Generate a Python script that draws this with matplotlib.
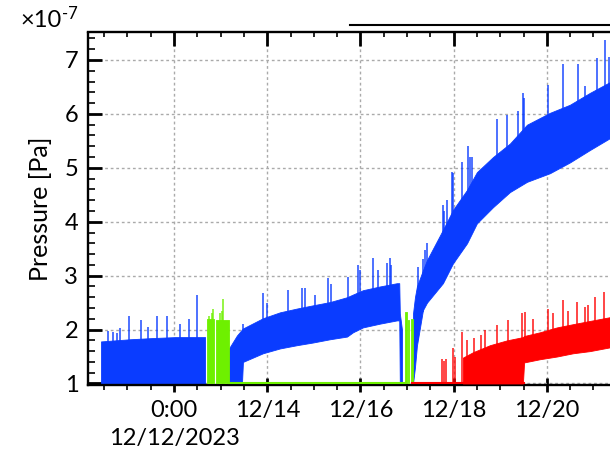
import numpy as np
import matplotlib.pyplot as plt
import matplotlib.dates as mdates
from matplotlib.ticker import FixedLocator, MultipleLocator
from matplotlib.lines import Line2D

plt.rcParams['font.family'] = ['Lato', 'DejaVu Sans']

# time axis: hours relative to 12/12/2023 0:00, pressure in units of 1e-7 Pa
t0 = np.datetime64('2023-12-12T00:00')

# blue gauge, first stretch (oscillates down to the floor)
blue1_h = [-37.6, -22.7, -12.4, 0.5, 16.0]
blue1_lo = [1.0, 1.0, 1.0, 1.0, 1.0]
blue1_hi = [1.78, 1.82, 1.84, 1.86, 1.86]

# blue gauge, second stretch
blue2_h = [28.3, 32.4, 35.0, 35.5, 45.8, 54.6, 63.3, 71.6, 80.3, 89.1, 92.2,
           97.3, 106.1, 114.8, 116.0, 116.3, 117.4]
blue2_lo = [1.0, 1.0, 1.0, 1.40, 1.56, 1.65, 1.71, 1.76, 1.82, 1.87, 1.95,
            2.04, 2.11, 2.17, 2.17, 1.0, 1.0]
blue2_hi = [1.65, 1.89, 2.0, 2.02, 2.21, 2.32, 2.39, 2.45, 2.51, 2.60, 2.65,
            2.73, 2.80, 2.86, 2.86, 2.3, 2.0]

# blue gauge, third stretch (steep rise)
blue3_h = [123.1, 124.1, 125.1, 128.2, 130.3, 138.5, 143.7, 150.9, 156.0, 164.3,
           173.0, 181.8, 193.6, 203.9, 214.2, 224.5, 235.0]
blue3_lo = [1.0, 1.3, 1.7, 2.36, 2.5, 2.86, 3.23, 3.6, 3.97, 4.27,
            4.55, 4.74, 4.9, 5.1, 5.33, 5.55, 5.7]
blue3_hi = [2.3, 2.6, 2.8, 3.1, 3.29, 3.85, 4.22, 4.59, 4.92, 5.2,
            5.45, 5.8, 6.02, 6.17, 6.39, 6.59, 6.75]

blue_spike_h = [-34.0, -31.5, -29.4, -27.8, -23.2, -17.0, -13.4, -8.8, -3.6, 3.1, 7.7, 11.8,
                35.5, 45.8, 48.0, 58.7, 65.9, 67.5, 72.6, 79.3, 81.0, 89.6, 94.8, 96.0,
                102.5, 105.0, 109.7, 111.2, 112.0,
                125.6, 128.0, 129.3, 130.3, 138.5, 139.0, 140.6, 143.2, 143.8, 148.3, 151.4,
                152.4, 153.5, 166.3, 171.5, 177.2, 179.7, 180.3, 192.6, 200.3, 208.1, 211.7,
                217.8, 222.0, 224.0]
blue_spike_v = [1.98, 1.95, 1.93, 2.02, 2.26, 2.17, 2.04, 2.26, 2.26, 2.11, 2.2, 2.64,
                2.11, 2.67, 2.5, 2.73, 2.78, 2.78, 2.64, 2.95, 2.85, 2.97, 3.19, 3.1,
                3.32, 3.1, 3.23, 3.32, 3.2,
                3.16, 3.3, 3.47, 3.6, 4.31, 4.2, 4.4, 4.92, 4.9, 5.11, 5.4,
                5.2, 5.2, 5.9, 5.98, 6.06, 6.39, 6.3, 6.54, 6.93, 6.93, 6.52,
                7.04, 7.37, 7.06]

# green gauge
green_blocks = [(17.0, 20.6, 2.2), (21.6, 28.3, 2.18),
                (119.0, 119.8, 2.32), (120.7, 121.2, 2.17), (121.9, 122.9, 2.2)]
green_floor = (28.3, 119.0, 1.0)
green_spike_h = [18.0, 19.6, 20.3, 23.7, 24.5, 25.2]
green_spike_v = [2.25, 2.3, 2.39, 2.3, 2.35, 2.56]

# red gauge
red_floor = (122.6, 180.3, 1.0)
red_h = [148.8, 154.0, 162.7, 171.5, 179.7, 180.3, 188.5, 197.2, 205.5, 214.2, 224.5, 235.0]
red_lo = [1.0, 1.0, 1.0, 1.0, 1.0, 1.39, 1.45, 1.5, 1.56, 1.6, 1.67, 1.72]
red_hi = [1.48, 1.58, 1.71, 1.80, 1.86, 1.88, 1.95, 2.04, 2.10, 2.16, 2.23, 2.3]
red_spike_h = [138.0, 139.1, 140.1, 143.7, 144.5, 148.3, 151.0, 154.5, 158.0, 160.0,
               166.3, 172.0, 179.2, 180.8, 185.0, 192.6, 195.0, 200.3, 203.0,
               207.5, 211.7, 213.0, 216.8, 221.5]
red_spike_v = [1.45, 1.42, 1.45, 1.65, 1.5, 1.95, 1.8, 1.85, 1.9, 2.0,
               2.08, 2.17, 2.3, 2.32, 2.2, 2.39, 2.3, 2.54, 2.35,
               2.51, 2.41, 2.45, 2.6, 2.7]

tick_days = ['2023-12-12', '2023-12-14', '2023-12-16', '2023-12-18', '2023-12-20']
tick_labels = ['0:00\n12/12/2023', '12/14', '12/16', '12/18', '12/20']

BLUE = '#0a3cff'
GREEN = '#6ef000'
RED = '#ff0000'


def tt(hours):
    return t0 + (np.asarray(hours, dtype=float) * 60).round().astype('timedelta64[m]')


fig = plt.figure(figsize=(6.1, 4.58), dpi=100)
ax = fig.add_axes([88 / 610, (458 - 384.5) / 458, (640 - 88) / 610, (384.5 - 32.5) / 458])

# blue
for h, lo, hi in [(blue1_h, blue1_lo, blue1_hi), (blue2_h, blue2_lo, blue2_hi),
                  (blue3_h, blue3_lo, blue3_hi)]:
    ax.fill_between(tt(h), lo, hi, color=BLUE, lw=0.6, zorder=2)
all_h = blue1_h + blue2_h + blue3_h
all_lo = blue1_lo + blue2_lo + blue3_lo
base = np.interp(blue_spike_h, all_h, all_lo)
ax.vlines(tt(blue_spike_h), base, blue_spike_v, color=BLUE, lw=1.2, alpha=0.85, zorder=2)

# green
for a, b, top in green_blocks:
    ax.fill_between(tt([a, b]), [1.0, 1.0], [top, top], color=GREEN, lw=0.6, zorder=3)
ax.plot(tt(green_floor[:2]), [green_floor[2]] * 2, color=GREEN, lw=1.5, zorder=3)
ax.vlines(tt(green_spike_h), 1.0, green_spike_v, color=GREEN, lw=1.2, alpha=0.85, zorder=3)

# red
ax.plot(tt(red_floor[:2]), [red_floor[2]] * 2, color=RED, lw=1.5, zorder=3)
ax.fill_between(tt(red_h), red_lo, red_hi, color=RED, lw=0.6, zorder=3)
red_base = np.interp(red_spike_h, red_h, red_lo, left=1.0)
ax.vlines(tt(red_spike_h), red_base, red_spike_v, color=RED, lw=1.2, alpha=0.85, zorder=3)

# axes
ax.set_xlim(tt(-44.3), tt(240))
ax.set_ylim(0.981, 7.51)

tick_pos = mdates.date2num(np.array(tick_days, dtype='datetime64[m]'))
ax.xaxis.set_major_locator(FixedLocator(tick_pos))
ax.set_xticklabels(tick_labels, fontsize=17, linespacing=1.4)
ax.xaxis.set_minor_locator(mdates.HourLocator(byhour=[0, 12]))
ax.tick_params(axis='x', which='major', direction='inout', length=9.5, width=2, pad=6.5,
               top=False)
ax.tick_params(axis='x', which='minor', direction='out', length=3.5, width=1.2, top=False)

ax.set_yticks(range(1, 8))
ax.yaxis.set_minor_locator(MultipleLocator(0.2))
ax.tick_params(axis='y', which='major', direction='in', length=10, width=2, labelsize=17,
               pad=7, right=False)
ax.tick_params(axis='y', which='minor', direction='in', length=5, width=1.2, right=False)
ax.set_ylabel('Pressure [Pa]', fontsize=18, labelpad=9)

ax.grid(which='major', color='#aaaaaa', linestyle=(0, (2, 2)), linewidth=1)
ax.set_axisbelow(True)
for s in ax.spines.values():
    s.set_linewidth(1.7)

# top ticks pointing inward
ax2 = ax.twiny()
ax2.set_xlim(ax.get_xlim())
ax2.xaxis.set_major_locator(FixedLocator(tick_pos))
ax2.xaxis.set_minor_locator(mdates.HourLocator(byhour=[0, 12]))
ax2.tick_params(axis='x', which='major', direction='in', length=10, width=2, labeltop=False)
ax2.tick_params(axis='x', which='minor', direction='in', length=3.5, width=1.2)
for s in ax2.spines.values():
    s.set_visible(False)

# exponent label
fig.text(20 / 610, 1 - 27 / 458, '×10', fontsize=17, va='baseline')
fig.text(62 / 610, 1 - 19 / 458, '-7', fontsize=12, va='baseline')

# line at the top right
fig.add_artist(Line2D([350 / 610, 1.0], [1 - 25 / 458] * 2, color='black', lw=1.5))

plt.savefig('out.png', dpi=100)
